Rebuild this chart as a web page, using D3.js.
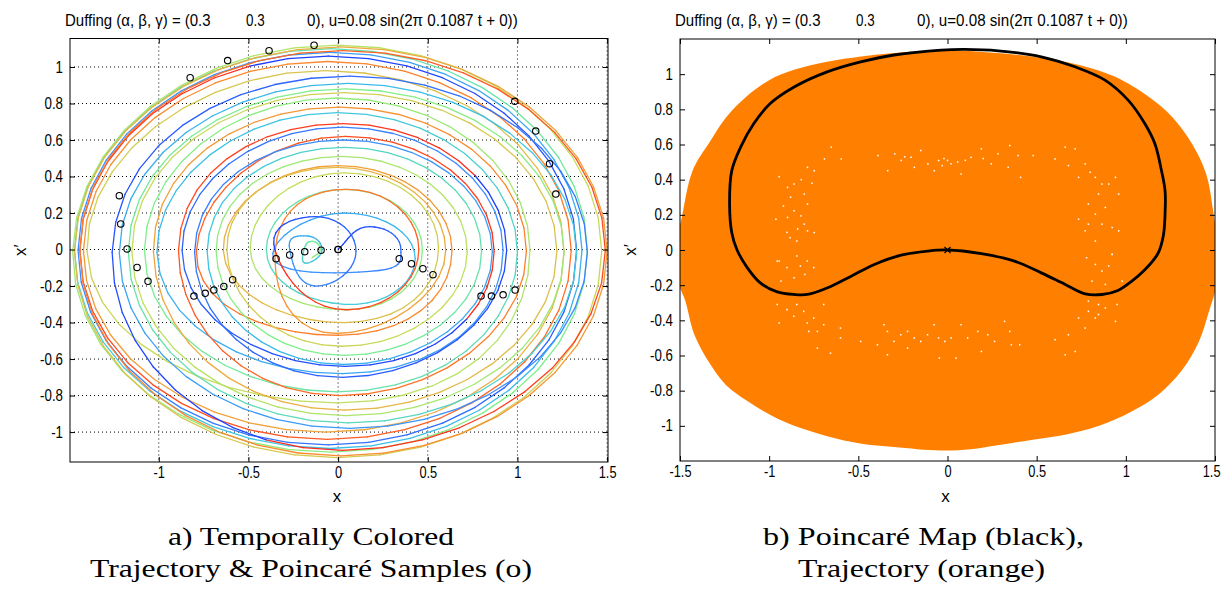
<!DOCTYPE html>
<html><head><meta charset="utf-8">
<script src="https://cdn.jsdelivr.net/npm/d3@7"></script>
<style>
body{margin:0;background:#fff;}
svg{display:block;}
</style></head><body>
<svg id="chart" width="1224" height="589"></svg>
<script>
// ---------------- data ----------------
const xTicksA = [-1, -0.5, 0, 0.5, 1, 1.5];
const xTicksB = [-1.5, -1, -0.5, 0, 0.5, 1, 1.5];
const yTicks = [-1, -0.8, -0.6, -0.4, -0.2, 0, 0.2, 0.4, 0.6, 0.8, 1];

const titleParts = ["Duffing (\u03b1, \u03b2, \u03b3) = (0.3", "0.3", "0),  u=0.08 sin(2\u03c0 0.1087 t + 0))"];
const captionA = ["a) Temporally Colored", "Trajectory & Poincar\u00e9 Samples (o)"];
const captionB = ["b) Poincar\u00e9 Map (black),", "Trajectory (orange)"];
const xLabel = "x";
const yLabel = "x\u2032";

// trajectory loops (time order): extreme points of each revolution
const loopLeft   = [0.00,-0.36,-0.40,-0.49,-0.64,-0.79,-0.87,-1.01,-1.08,-1.40,-1.42,-1.44,-1.45,-1.47,-1.48,-1.47,-1.44,-1.26,-1.22,-1.17,-1.15,-1.03,-0.89,-0.80,-0.73,-0.68,-0.62,-0.35,-0.35,-0.27,-0.19];
const loopRight  = [0.35, 0.43, 0.47, 0.56, 0.635,0.87, 0.92, 1.00, 1.07, 1.26, 1.30, 1.33, 1.36, 1.39, 1.47, 1.50, 1.49, 1.39, 1.33, 1.26, 1.22, 1.05, 0.94, 0.86, 0.80, 0.72, 0.60, 0.45, 0.10,-0.09,-0.10];
const loopTop    = [0.125,0.20, 0.33, 0.42, 0.46, 0.62, 0.67, 0.75, 0.83, 0.98, 1.03, 1.06, 1.08, 1.10, 1.12, 1.11, 1.09, 0.95, 0.91, 0.88, 0.86, 0.78, 0.69, 0.60, 0.56, 0.51, 0.45, 0.33, 0.18, 0.075,0.045];
const loopBottom = [-0.12,-0.30,-0.33,-0.40,-0.47,-0.64,-0.68,-0.78,-0.84,-1.00,-1.04,-1.07,-1.09,-1.11,-1.14,-1.13,-1.10,-0.98,-0.95,-0.91,-0.88,-0.80,-0.70,-0.63,-0.58,-0.53,-0.46,-0.33,-0.20,-0.075,-0.045];
const trajColors = ["#1d3cff", "#3c8cff", "#3cc6e4", "#7ef08c", "#c4df5c", "#ebb042", "#ff7e28", "#ff2a1c"];

// Poincare samples (left panel)
const sampleX = [0, 0.341, 0.409, 0.473, 0.529, 0.797, 0.855, 0.920, 0.987, 1.214, 1.179, 1.102, 0.985, -0.134, -0.385, -0.616, -0.825, -1.220, -1.212, -1.177, -1.121, -1.060, -0.804, -0.741, -0.693, -0.637, -0.588, -0.346, -0.270, -0.186, -0.095, 0];
const sampleY = [0, -0.050, -0.078, -0.105, -0.138, -0.255, -0.255, -0.248, -0.222, 0.304, 0.470, 0.649, 0.812, 1.119, 1.089, 1.035, 0.941, 0.295, 0.140, 0.003, -0.098, -0.174, -0.255, -0.240, -0.222, -0.202, -0.165, -0.050, -0.030, -0.012, -0.004, 0];

// trajectory envelope (right panel, orange)
const envX = [-0.10, 0.09, 0.47, 0.75, 0.94, 1.13, 1.26, 1.37, 1.45, 1.49, 1.51, 1.51, 1.466, 1.41, 1.31, 1.185, 1.03, 0.85, 0.66, 0.47, 0.28, 0.13, -0.04, -0.30, -0.49, -0.67, -0.86, -0.99, -1.12, -1.24, -1.33, -1.42, -1.47, -1.51, -1.51, -1.49, -1.43, -1.33, -1.24, -1.13, -1.00, -0.865, -0.675, -0.485, -0.297];
const envY = [1.135, 1.133, 1.10, 1.05, 0.985, 0.87, 0.756, 0.605, 0.434, 0.22, 0.05, -0.19, -0.35, -0.52, -0.69, -0.82, -0.92, -1.00, -1.05, -1.08, -1.11, -1.133, -1.14, -1.12, -1.10, -1.06, -1.00, -0.94, -0.86, -0.77, -0.65, -0.48, -0.29, -0.18, 0.09, 0.185, 0.45, 0.62, 0.756, 0.87, 0.966, 1.023, 1.07, 1.10, 1.12];

// Poincare map (right panel, black)
const mapX = [0.097, 0.285, 0.526, 0.714, 0.883, 1.014, 1.107, 1.163, 1.200, 1.220, 1.220, 1.210, 1.180, 1.105, 1.030, 0.956, 0.866, 0.772, 0.660, 0.526, 0.375, 0.190, 0.000, -0.110, -0.260, -0.410, -0.540, -0.672, -0.785, -0.860, -0.955, -1.050, -1.123, -1.180, -1.210, -1.222, -1.210, -1.160, -1.087, -0.994, -0.860, -0.675, -0.487, -0.300, -0.035];
const mapY = [1.141, 1.133, 1.099, 1.042, 0.966, 0.851, 0.718, 0.604, 0.451, 0.337, 0.204, 0.080, -0.020, -0.114, -0.180, -0.230, -0.253, -0.250, -0.196, -0.130, -0.063, -0.021, 0.000, -0.006, -0.029, -0.082, -0.149, -0.215, -0.253, -0.253, -0.238, -0.187, -0.100, 0.000, 0.100, 0.260, 0.450, 0.585, 0.718, 0.833, 0.927, 1.013, 1.070, 1.109, 1.137];

// uncovered spots inside the orange trajectory (white dots)
const gapX = [-0.944,-0.86,-0.785,-0.69,-0.652,-0.596,-0.747,-0.897,-0.803,-0.785,-0.86,-0.822,-0.962,-0.897,-0.803,-0.785,-0.747,-0.883,-0.845,-0.944,-0.82,-0.76,-0.88,-0.92,-0.84,-0.90,
 -0.39,-0.296,-0.26,-0.205,-0.15,-0.11,-0.074,-0.186,-0.335,-0.05,0,0.057,0.132,0.19,0.245,0.283,0.349,0.34,0.396,0.48,0.41,0.076,-0.02,0.02,-0.03,0.10,-0.24,0.20,
 0.66,0.716,0.603,0.678,0.772,0.8,0.735,0.829,0.866,0.904,0.847,0.942,0.96,0.79,0.885,0.829,0.735,0.79,0.866,0.923,0.96,0.772,0.829,0.923,
 -0.955,-0.9,-0.845,-0.825,-0.787,-0.75,-0.86,-0.8,-0.934,-0.955,-0.9,-0.845,-0.806,-0.862,-0.944,-0.787,-0.75,-0.694,-0.73,-0.694,-0.778,-0.6,-0.6,-0.73,-0.656,
 -0.487,-0.356,-0.337,-0.3,-0.262,-0.224,-0.187,-0.15,-0.112,-0.075,-0.337,-0.224,-0.393,-0.05,-0.015,0.02,0.048,-0.046,0.076,0.113,0.17,0.226,0.264,0.19,0.32,0.349,0.358,0.405,
 0.603,0.66,0.716,0.678,0.735,0.772,0.829,0.79,0.847,0.885,0.942,0.847,0.79,0.951,0.78,0.829,0.866,0.904,0.81,0.885,0.923,0.979];
const gapY = [0.417,0.375,0.47,0.518,0.585,0.518,0.451,0.356,0.318,0.261,0.223,0.194,0.175,0.185,0.147,0.109,0.099,0.07,0.051,-0.063,0.40,0.38,0.30,0.25,0.12,0.10,
 0.537,0.547,0.509,0.527,0.566,0.49,0.451,0.47,0.451,0.509,0.509,0.5,0.527,0.575,0.49,0.547,0.594,0.47,0.537,0.537,0.413,0.432,0.52,0.49,0.48,0.51,0.53,0.52,
 0.585,0.575,0.518,0.48,0.49,0.442,0.413,0.413,0.375,0.375,0.318,0.413,0.318,0.261,0.242,0.204,0.175,0.147,0.147,0.128,0.109,0.109,0.051,-0.025,
 -0.063,-0.1,-0.034,-0.091,-0.063,-0.1,-0.158,-0.139,-0.177,-0.31,-0.339,-0.31,-0.349,-0.377,-0.415,-0.415,-0.387,-0.31,-0.463,-0.425,-0.463,-0.444,-0.5,-0.558,-0.587,
 -0.52,-0.425,-0.463,-0.52,-0.482,-0.463,-0.5,-0.52,-0.482,-0.425,-0.596,-0.558,-0.539,-0.5,-0.52,-0.5,-0.615,-0.615,-0.425,-0.5,-0.463,-0.482,-0.52,-0.577,-0.406,-0.463,-0.539,-0.539,
 -0.51,-0.596,-0.577,-0.482,-0.387,-0.444,-0.387,-0.349,-0.367,-0.33,-0.406,-0.31,-0.291,-0.31,-0.044,-0.082,-0.12,-0.091,-0.177,-0.196,-0.025,-0.177];

// ---------------- drawing ----------------
const svg = d3.select("#chart");
const tickFont = "'Liberation Sans', Arial, sans-serif";
const A = {left: 70, right: 608, top: 38.5, bottom: 462};
const B = {left: 680, right: 1215, top: 39, bottom: 461};
const xA = d3.scaleLinear().domain([-1.495, 1.505]).range([A.left, A.right]);
const yA = d3.scaleLinear().domain([-1.164, 1.156]).range([A.bottom, A.top]);
const xB = d3.scaleLinear().domain([-1.5, 1.5]).range([B.left, B.right]);
const yB = d3.scaleLinear().domain([-1.2, 1.2]).range([B.bottom, B.top]);

const defs = svg.append("defs");
[["clipA", A], ["clipB", B]].forEach(([id, r]) => {
  defs.append("clipPath").attr("id", id).append("rect")
    .attr("x", r.left).attr("y", r.top).attr("width", r.right - r.left).attr("height", r.bottom - r.top);
});

// narrow the glyphs (the original uses a condensed Helvetica)
function narrow(sel, f) {
  sel.each(function () {
    const w = this.getComputedTextLength();
    if (w > 0) d3.select(this).attr("textLength", w * f).attr("lengthAdjust", "spacingAndGlyphs");
  });
}

// ---- panel A grid ----
const gA = svg.append("g");
const gridA = gA.append("g").attr("stroke", "#000").attr("stroke-width", 1).attr("stroke-dasharray", "1,3");
xTicksA.forEach(v => gridA.append("line").attr("x1", xA(v)).attr("x2", xA(v)).attr("y1", A.top).attr("y2", A.bottom));
yTicks.forEach(v => gridA.append("line").attr("y1", yA(v)).attr("y2", yA(v)).attr("x1", A.left).attr("x2", A.right));

// ---- panel A trajectory ----
const way = [];
loopLeft.forEach((l, i) => {
  const r = loopRight[i], t = loopTop[i], b = loopBottom[i];
  const cx = (l + r) / 2, cy = (t + b) / 2;
  way.push([l, cy], [cx, t], [r, cy], [cx, b]);
});
const P = way.map(p => [xA(p[0]), yA(p[1])]);
const pal = d3.piecewise(d3.interpolateRgb, trajColors);
const cyclePeriod = 5.6; // loops per colour cycle
const kk = (1 - (-0.657)) / 6;
const trajG = gA.append("g").attr("clip-path", "url(#clipA)").attr("fill", "none")
  .attr("stroke-width", 1.3).attr("stroke-linecap", "round");
const sub = 10;
for (let k = 0; k < P.length - 1; k++) {
  const p0 = P[Math.max(k - 1, 0)], p1 = P[k], p2 = P[k + 1], p3 = P[Math.min(k + 2, P.length - 1)];
  const c1 = [p1[0] + kk * (p2[0] - p0[0]), p1[1] + kk * (p2[1] - p0[1])];
  const c2 = [p2[0] - kk * (p3[0] - p1[0]), p2[1] - kk * (p3[1] - p1[1])];
  const bz = s => {
    const u = 1 - s;
    return [u*u*u*p1[0] + 3*u*u*s*c1[0] + 3*u*s*s*c2[0] + s*s*s*p2[0],
            u*u*u*p1[1] + 3*u*u*s*c1[1] + 3*u*s*s*c2[1] + s*s*s*p2[1]];
  };
  for (let j = 0; j < sub; j++) {
    const a = bz(j / sub), b2 = bz((j + 1) / sub);
    const tLoop = (k + (j + 0.5) / sub) / 4;
    const phase = (tLoop / cyclePeriod) % 1;
    trajG.append("line").attr("x1", a[0]).attr("y1", a[1]).attr("x2", b2[0]).attr("y2", b2[1])
      .attr("stroke", pal(phase));
  }
}

// ---- panel A Poincare samples ----
gA.append("g").selectAll("circle").data(sampleX.map((v, i) => [v, sampleY[i]])).join("circle")
  .attr("cx", d => xA(d[0])).attr("cy", d => yA(d[1])).attr("r", 3.2)
  .attr("fill", "none").attr("stroke", "#000").attr("stroke-width", 1.1);

// ---- panel B ----
const gB = svg.append("g");
const plotB = gB.append("g").attr("clip-path", "url(#clipB)");
plotB.append("path")
  .datum(envX.map((v, i) => [v, envY[i]]))
  .attr("d", d3.line().x(d => xB(d[0])).y(d => yB(d[1])).curve(d3.curveCatmullRomClosed.alpha(0.5)))
  .attr("fill", "#ff8000").attr("stroke", "none");
plotB.append("g").selectAll("rect").data(gapX.map((v, i) => [v, gapY[i]])).join("rect")
  .attr("x", d => xB(d[0]) - 0.75).attr("y", d => yB(d[1]) - 0.75).attr("width", 1.5).attr("height", 1.5)
  .attr("fill", "#fff");
plotB.append("path")
  .datum(mapX.map((v, i) => [v, mapY[i]]))
  .attr("d", d3.line().x(d => xB(d[0])).y(d => yB(d[1])).curve(d3.curveCatmullRomClosed.alpha(0.5)))
  .attr("fill", "none").attr("stroke", "#000").attr("stroke-width", 2.8);
const ox = xB(0), oy = yB(0);
plotB.append("path").attr("d", `M${ox-3},${oy-3}L${ox+3},${oy+3}M${ox-3},${oy+3}L${ox+3},${oy-3}`)
  .attr("stroke", "#000").attr("stroke-width", 1.2);

// ---- axes ----
function drawAxes(g, r, x, y, xt) {
  const fmt = d => String(d);
  const styleAxis = sel => {
    sel.select(".domain").remove();
    sel.selectAll(".tick line").attr("stroke", "#000");
    sel.attr("font-family", tickFont).attr("font-size", 16);
    sel.selectAll("text").attr("fill", "#000");
  };
  const bx = g.append("g").attr("transform", `translate(0,${r.bottom})`)
    .call(d3.axisBottom(x).tickValues(xt).tickFormat(fmt).tickSize(-5).tickPadding(5)).call(styleAxis);
  g.append("g").attr("transform", `translate(0,${r.top})`)
    .call(d3.axisTop(x).tickValues(xt).tickFormat("").tickSize(-5)).call(styleAxis);
  const ly = g.append("g").attr("transform", `translate(${r.left},0)`)
    .call(d3.axisLeft(y).tickValues(yTicks).tickFormat(fmt).tickSize(-5).tickPadding(7)).call(styleAxis);
  g.append("g").attr("transform", `translate(${r.right},0)`)
    .call(d3.axisRight(y).tickValues(yTicks).tickFormat("").tickSize(-5)).call(styleAxis);
  narrow(bx.selectAll("text"), 0.8);
  narrow(ly.selectAll("text"), 0.83);
  // keep the last x label inside the page
  bx.selectAll(".tick").filter(d => x(d) > 1200).select("text").attr("text-anchor", "end").attr("x", 5);
  g.append("rect").attr("x", r.left).attr("y", r.top).attr("width", r.right - r.left).attr("height", r.bottom - r.top)
    .attr("fill", "none").attr("stroke", "#000").attr("stroke-width", 1);
  g.append("text").attr("x", (r.left + r.right) / 2 - 2).attr("y", 502).attr("text-anchor", "middle")
    .attr("font-family", tickFont).attr("font-size", 17).text(xLabel);
  g.append("text").attr("transform", `translate(${r.left - 44},${(r.top + r.bottom) / 2}) rotate(-90)`)
    .attr("text-anchor", "middle").attr("font-family", tickFont).attr("font-size", 17).text(yLabel);
  const t0 = r.left - 5;
  const offs = [[0, 145.6], [181, 18.6], [242, 210.7]];
  titleParts.forEach((s, i) => {
    g.append("text").attr("x", t0 + offs[i][0]).attr("y", 26)
      .attr("font-family", tickFont).attr("font-size", 16)
      .attr("textLength", offs[i][1]).attr("lengthAdjust", "spacingAndGlyphs").text(s);
  });
}
drawAxes(gA, A, xA, yA, xTicksA);
drawAxes(gB, B, xB, yB, xTicksB);

// ---- captions ----
const capFont = "'Liberation Serif', 'Times New Roman', serif";
const caps = [
  [captionA[0], 168, 545, 286], [captionA[1], 90, 577, 442],
  [captionB[0], 763, 545, 321], [captionB[1], 798, 577, 247]
];
caps.forEach(([s, x0, y0, w]) => {
  svg.append("text").attr("x", x0).attr("y", y0).attr("font-family", capFont).attr("font-size", 25)
    .attr("textLength", w).attr("lengthAdjust", "spacingAndGlyphs").text(s);
});
</script>
</body></html>
